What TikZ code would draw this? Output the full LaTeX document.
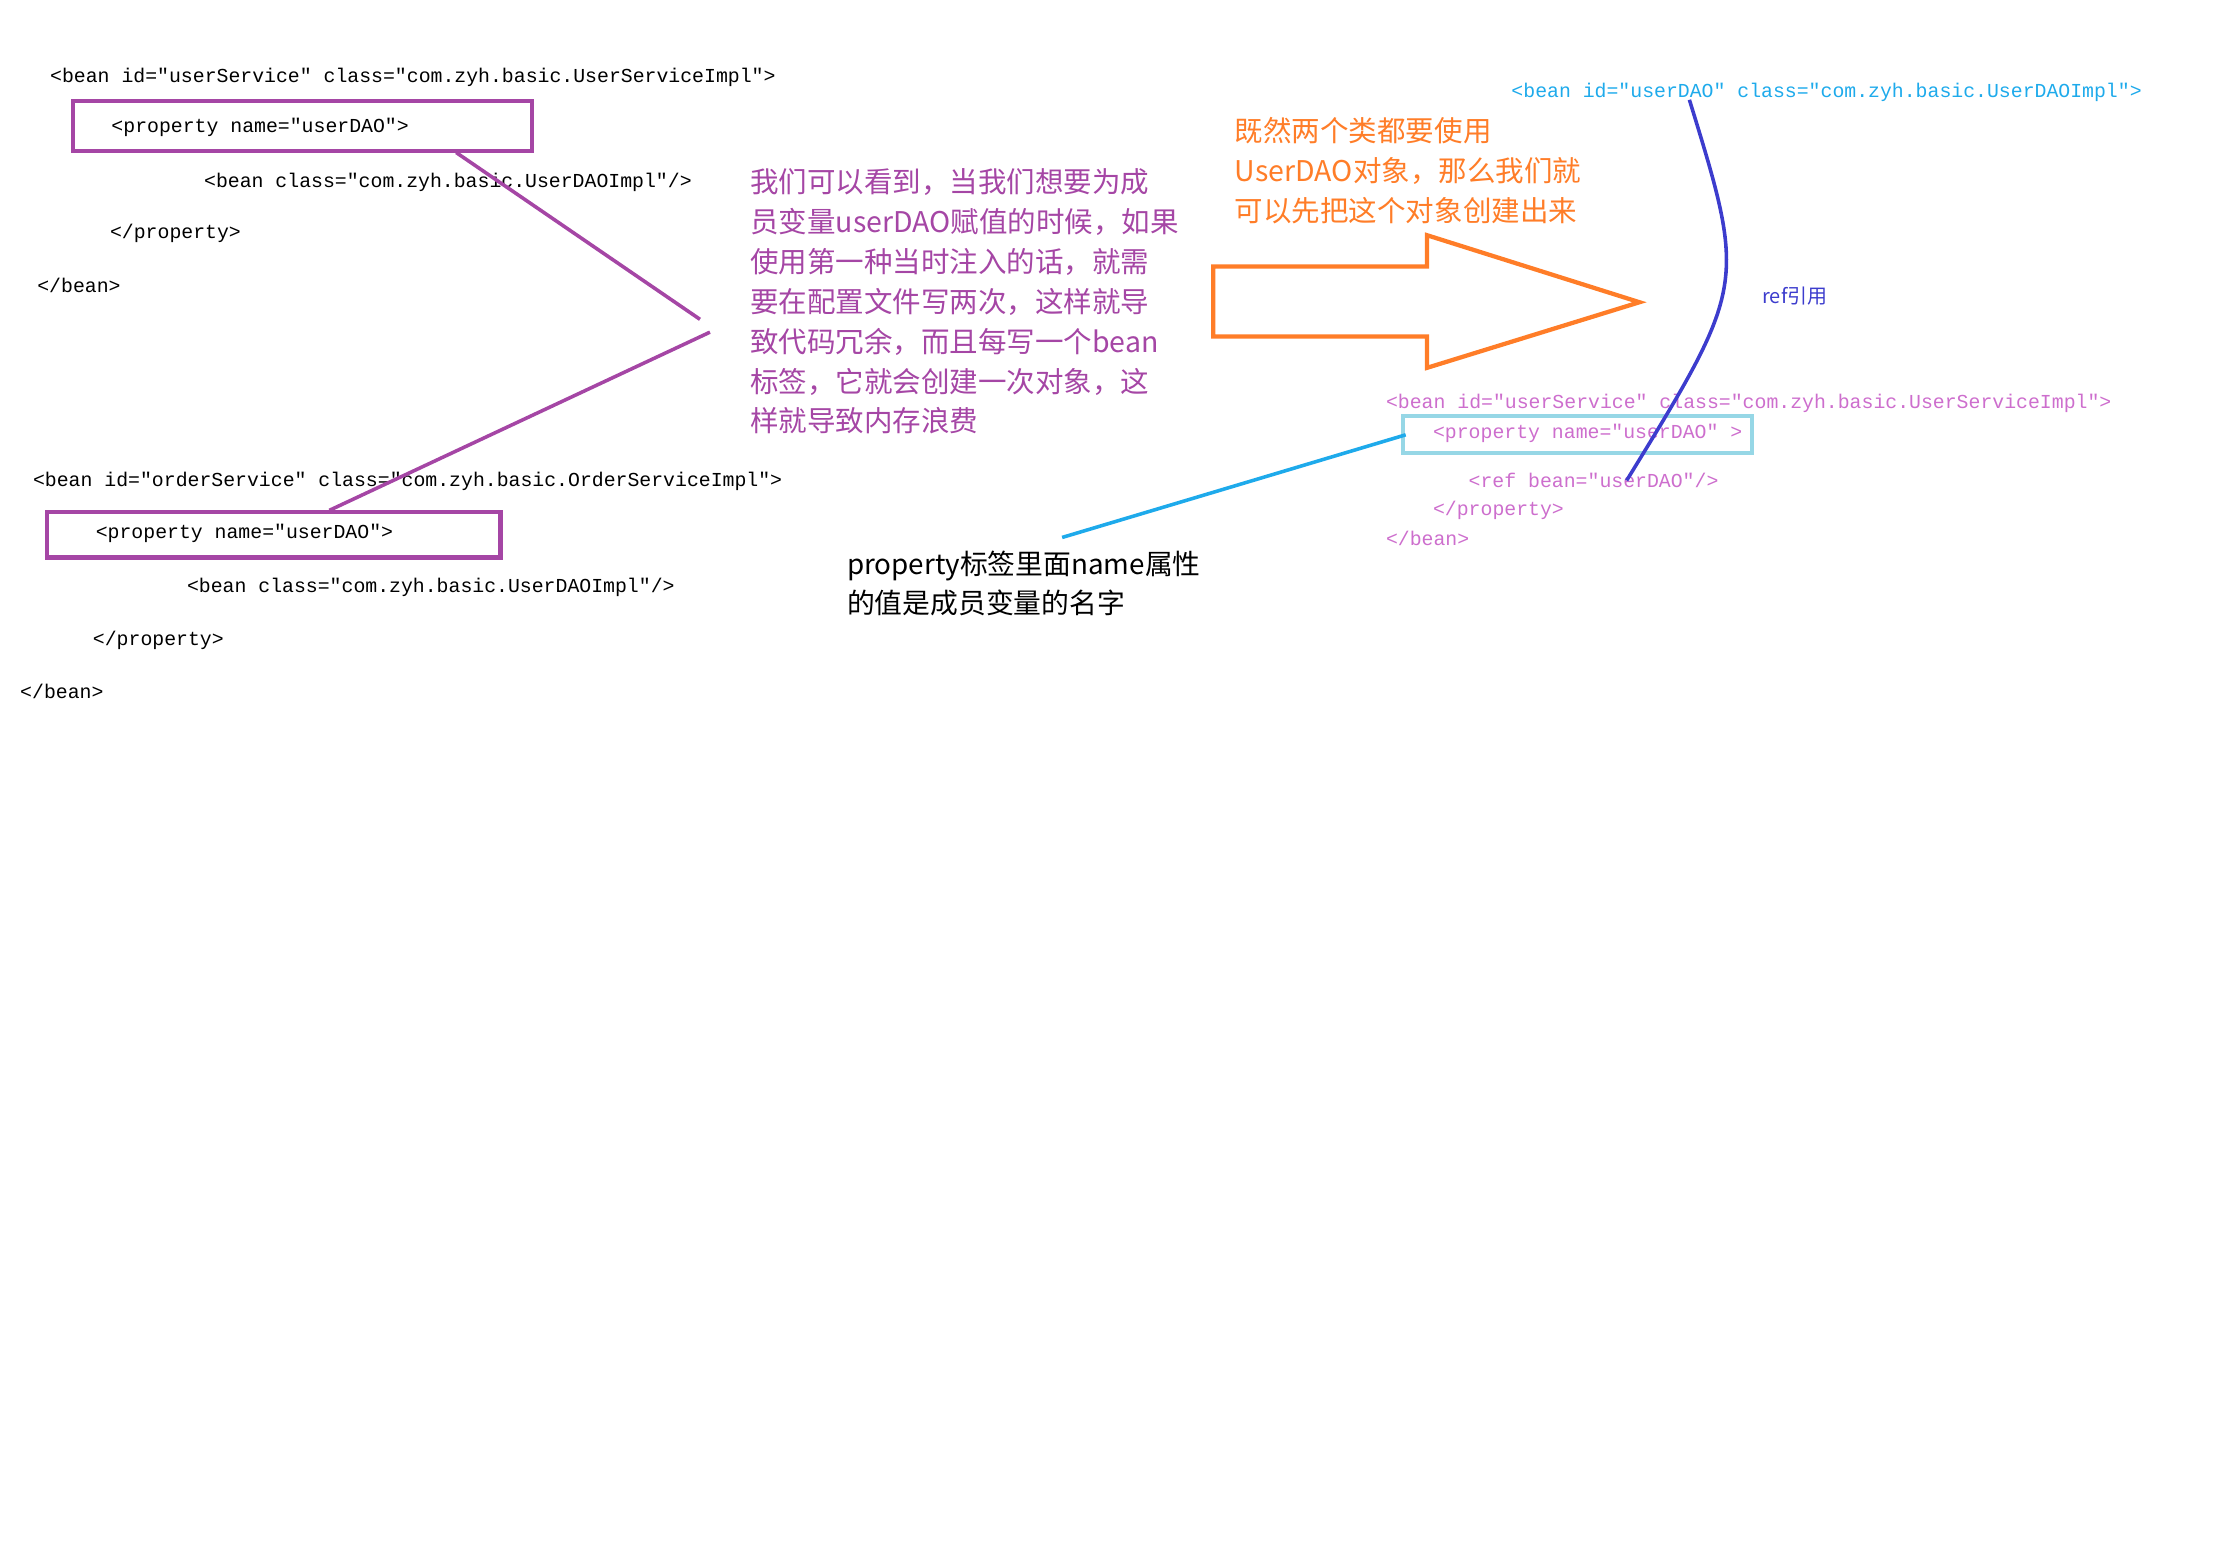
\documentclass[tikz,border=0pt]{standalone}
\usepackage{fontspec}
\setmainfont{Liberation Serif}
\setmonofont{Liberation Mono}
\newfontfamily\cjk{Noto Sans CJK SC}
\definecolor{pur}{RGB}{165,70,165}
\definecolor{org}{RGB}{255,125,40}
\definecolor{sky}{RGB}{30,170,235}
\definecolor{pink}{RGB}{205,110,205}
\definecolor{lcyan}{RGB}{150,215,230}
\definecolor{dblue}{RGB}{60,60,205}
\begin{document}
\begin{tikzpicture}[x=1pt,y=-1pt,
  code/.style={anchor=west,inner sep=0pt,font=\ttfamily\fontsize{13.9}{16}\selectfont},
  zh/.style={anchor=north west,inner sep=0pt,align=left,font=\cjk\fontsize{20}{28}\selectfont},
  pbox/.style={draw=pur,line width=3pt},
  pline/.style={draw=pur,line width=2.5pt}]
\useasboundingbox (0,0) rectangle (1560,1099);
% left block 1
\node[code] (a1) at (35,54) {<bean id="userService" class="com.zyh.basic.UserServiceImpl">};
\node[code] (a2) at (78,89) {<property name="userDAO">};
\draw[pbox] (51,71) rectangle (373,106);
\coordinate (b1t) at (320,107);
\node[code] (a3) at (143,128) {<bean class="com.zyh.basic.UserDAOImpl"/>};
\node[code] (a4) at (77,164) {</property>};
\node[code] (a5) at (26,200) {</bean>};
% left block 2
\node[code] (c1) at (23,338) {<bean id="orderService" class="com.zyh.basic.OrderServiceImpl">};
\node[code] (c2) at (67,374) {<property name="userDAO">};
\draw[pbox] (33,359) rectangle (351,391);
\coordinate (b2t) at (231,358);
\node[code] (c3) at (131,412) {<bean class="com.zyh.basic.UserDAOImpl"/>};
\node[code] (c4) at (65,449) {</property>};
\node[code] (c5) at (14,485) {</bean>};
% purple lines
\coordinate (p1) at (491,224);
\coordinate (p2) at (498,233);
\draw[pline] (b1t) -- (p1);
\draw[pline] (p2) -- (b2t);
% purple text
\node[zh,text=pur] (t1) at (526,118) {我们可以看到，当我们想要为成\\员变量userDAO赋值的时候，如果\\使用第一种当时注入的话，就需\\要在配置文件写两次，这样就导\\致代码冗余，而且每写一个bean\\标签，它就会创建一次对象，这\\样就导致内存浪费};
% orange text
\node[zh,text=org] (t2) at (866,82) {既然两个类都要使用\\UserDAO对象，那么我们就\\可以先把这个对象创建出来};
% orange arrow
\draw[org,line width=3pt] (851,187) -- (1001,187) -- (1001,165) -- (1150,212) -- (1001,258) -- (1001,236) -- (851,236) -- cycle;
% right code
\node[code,text=sky] (r1) at (1060,65) {<bean id="userDAO" class="com.zyh.basic.UserDAOImpl">};
\node[code,text=pink] (r2) at (972,283) {<bean id="userService" class="com.zyh.basic.UserServiceImpl">};
\node[code,text=pink] (r3) at (1005,304) {<property name="userDAO" >};
\draw[lcyan,line width=3pt] (984,292) rectangle (1229,318);
\coordinate (r3l) at (986,305);
\node[code,text=pink] (r4) at (1030,337) {<ref bean="userDAO"/>};
\node[code,text=pink] (r5) at (1005,358) {</property>};
\node[code,text=pink] (r6) at (972,378) {</bean>};
% blue curve
\coordinate (u1) at (1185,70);
\coordinate (u2) at (1141,337);
\draw[dblue,line width=2.5pt] (u1) .. controls (1225,200) and (1225,200) .. (u2);
\node[code,text=dblue,font=\cjk\fontsize{14}{16}\selectfont] (ref) at (1236,208) {ref引用};
% blue line and black text
\coordinate (bl) at (745,377);
\draw[sky,line width=2.5pt] (r3l) -- (bl);
\node[zh,font=\cjk\fontsize{19.5}{28}\selectfont] (t3) at (594,386) {property标签里面name属性\\的值是成员变量的名字};
\end{tikzpicture}
\end{document}
